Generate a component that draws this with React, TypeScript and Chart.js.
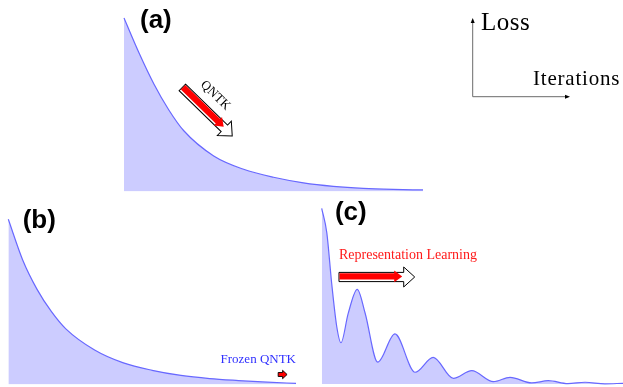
import { useEffect, useRef } from "react";
import { Chart, registerables } from "chart.js";

Chart.register(...registerables);

// Panel (a): plain QNTK regime, smooth decay
const iterationsA = [0, 0.5, 1, 1.5, 2, 3, 4, 5, 6, 7, 8, 9, 10];
const lossA = [1.0, 0.8, 0.62, 0.47, 0.35, 0.205, 0.128, 0.082, 0.05, 0.03, 0.018, 0.012, 0.009];

// Panel (b): frozen QNTK, same kind of decay
const iterationsB = [0, 0.5, 1, 1.5, 2, 3, 4, 5, 6, 7, 8, 9, 10];
const lossB = [1.0, 0.754, 0.576, 0.441, 0.337, 0.209, 0.131, 0.086, 0.055, 0.036, 0.024, 0.014, 0.007];

// Panel (c): representation learning, damped oscillation
const iterationsC = [0, 0.17, 0.33, 0.5, 0.64, 0.88, 1.18, 1.44, 1.86, 2.43, 3.1, 3.7, 4.37, 4.98, 5.7, 6.25, 6.97, 7.52, 8.17, 8.74, 9.4, 10];
const lossC = [1.0, 0.86, 0.575, 0.326, 0.235, 0.402, 0.539, 0.404, 0.124, 0.285, 0.067, 0.152, 0.032, 0.076, 0.013, 0.038, 0.006, 0.019, 0.002, 0.01, 0.001, 0.004];

const panelLabels = ["(a)", "(b)", "(c)"];
const axisLabels = { y: "Loss", x: "Iterations" };
const arrowTexts = { a: "QNTK", b: "Frozen QNTK", c: "Representation Learning" };

const FILL = "#ccccff";
const LINE = "rgb(104,104,255)";

type Ctx = CanvasRenderingContext2D;

function blockArrow(
  ctx: Ctx,
  x0: number,
  y0: number,
  x1: number,
  y1: number,
  o: { sw: number; hw: number; hl: number; fill: string; stroke?: string; lw?: number; off?: number }
) {
  const L = Math.hypot(x1 - x0, y1 - y0);
  const ang = Math.atan2(y1 - y0, x1 - x0);
  const off = o.off || 0;
  ctx.save();
  ctx.translate(x0, y0);
  ctx.rotate(ang);
  ctx.beginPath();
  ctx.moveTo(0, off - o.sw);
  ctx.lineTo(L - o.hl, off - o.sw);
  ctx.lineTo(L - o.hl, off - o.hw);
  ctx.lineTo(L, off);
  ctx.lineTo(L - o.hl, off + o.hw);
  ctx.lineTo(L - o.hl, off + o.sw);
  ctx.lineTo(0, off + o.sw);
  ctx.closePath();
  ctx.fillStyle = o.fill;
  ctx.fill();
  if (o.stroke) {
    ctx.strokeStyle = o.stroke;
    ctx.lineWidth = o.lw || 1;
    ctx.lineJoin = "miter";
    ctx.stroke();
  }
  ctx.restore();
}

// Outlined arrow with a red progress arrow painted inside it
function progressArrow(ctx: Ctx, x0: number, y0: number, x1: number, y1: number) {
  const L = Math.hypot(x1 - x0, y1 - y0);
  const ux = (x1 - x0) / L;
  const uy = (y1 - y0) / L;
  blockArrow(ctx, x0, y0, x1, y1, { sw: 4.6, hw: 10, hl: 11, fill: "#ffffff", stroke: "#000000", lw: 1 });
  const Lr = L - 12.5;
  blockArrow(ctx, x0 + ux * 0.5, y0 + uy * 0.5, x0 + ux * Lr, y0 + uy * Lr, {
    sw: 3.2,
    hw: 5.8,
    hl: 8,
    fill: "#ff0000",
    off: -0.6,
  });
}

function smallArrow(ctx: Ctx, x0: number, y0: number, x1: number, y1: number) {
  blockArrow(ctx, x0, y0, x1, y1, { sw: 2, hw: 4.2, hl: 4.5, fill: "#ff0000", stroke: "#000000", lw: 0.9 });
}

function lineArrow(ctx: Ctx, x0: number, y0: number, x1: number, y1: number) {
  ctx.save();
  ctx.strokeStyle = "#6b6b6b";
  ctx.lineWidth = 1;
  ctx.beginPath();
  ctx.moveTo(x0, y0);
  ctx.lineTo(x1, y1);
  ctx.stroke();
  const ang = Math.atan2(y1 - y0, x1 - x0);
  ctx.translate(x1, y1);
  ctx.rotate(ang);
  ctx.fillStyle = "#000000";
  ctx.beginPath();
  ctx.moveTo(2, 0);
  ctx.lineTo(-3, -2);
  ctx.lineTo(-3, 2);
  ctx.closePath();
  ctx.fill();
  ctx.restore();
}

function label(ctx: Ctx, text: string, x: number, y: number) {
  ctx.save();
  ctx.font = "bold 26px 'Liberation Sans', Arial, sans-serif";
  ctx.fillStyle = "#000000";
  ctx.textAlign = "left";
  ctx.textBaseline = "alphabetic";
  ctx.fillText(text, x, y);
  ctx.restore();
}

function serifText(
  ctx: Ctx,
  text: string,
  x: number,
  y: number,
  size: number,
  color: string,
  align: CanvasTextAlign = "left",
  spacing = 0
) {
  ctx.save();
  ctx.font = `${size}px 'Liberation Serif', 'Times New Roman', serif`;
  (ctx as any).letterSpacing = `${spacing}px`;
  ctx.fillStyle = color;
  ctx.textAlign = align;
  ctx.textBaseline = "alphabetic";
  ctx.fillText(text, x, y);
  ctx.restore();
}

type Annotate = (chart: Chart, X: (v: number) => number, Y: (v: number) => number) => void;

function makeChart(
  canvas: HTMLCanvasElement,
  xs: number[],
  ys: number[],
  padding: { left: number; right: number; top: number; bottom: number },
  annotate: Annotate
) {
  return new Chart(canvas, {
    type: "line",
    data: {
      datasets: [
        {
          data: xs.map((x, i) => ({ x, y: ys[i] })),
          borderColor: LINE,
          borderWidth: 1.2,
          backgroundColor: FILL,
          fill: "origin",
          pointRadius: 0,
          cubicInterpolationMode: "monotone",
          clip: 2,
        },
      ],
    },
    options: {
      responsive: false,
      animation: false,
      events: [],
      layout: { padding },
      scales: {
        x: { type: "linear", display: false, min: 0, max: 10 },
        y: { type: "linear", display: false, min: 0, max: 1 },
      },
      plugins: { legend: { display: false }, tooltip: { enabled: false } },
    },
    plugins: [
      {
        id: "panelNotes",
        afterDatasetsDraw(chart: Chart) {
          const X = (v: number) => chart.scales.x.getPixelForValue(v);
          const Y = (v: number) => chart.scales.y.getPixelForValue(v);
          annotate(chart, X, Y);
        },
      },
    ],
  });
}

export default function App() {
  const refA = useRef<HTMLCanvasElement>(null);
  const refB = useRef<HTMLCanvasElement>(null);
  const refC = useRef<HTMLCanvasElement>(null);

  useEffect(() => {
    const charts: Chart[] = [];

    charts.push(
      makeChart(refA.current!, iterationsA, lossA, { left: 124, right: 200, top: 18, bottom: 8.5 }, (chart, X, Y) => {
        const ctx = chart.ctx;
        label(ctx, panelLabels[0], X(0.535), Y(0.942));
        const x0 = X(1.95), y0 = Y(0.6), x1 = X(3.62), y1 = Y(0.32);
        progressArrow(ctx, x0, y0, x1, y1);
        ctx.save();
        ctx.translate(X(3.07), Y(0.556));
        ctx.rotate(Math.atan2(y1 - y0, x1 - x0));
        serifText(ctx, arrowTexts.a, 0, 4, 13, "#000000", "center");
        ctx.restore();
        // axis key in the top-right corner
        lineArrow(ctx, 472.7, 96.7, 472.7, 20);
        lineArrow(ctx, 472.7, 96.7, 568, 96.7);
        serifText(ctx, axisLabels.y, 481, 30, 25, "#000000", "left", 0.5);
        serifText(ctx, axisLabels.x, 533, 85, 21, "#000000", "left", 0.8);
      })
    );

    charts.push(
      makeChart(refB.current!, iterationsB, lossB, { left: 8.3, right: 14, top: 19.3, bottom: 2.5 }, (chart, X, Y) => {
        const ctx = chart.ctx;
        label(ctx, panelLabels[1], X(0.5), Y(0.947));
        serifText(ctx, arrowTexts.b, X(10), Y(0.13), 13, "#3030ff", "right");
        smallArrow(ctx, X(9.38), Y(0.0605), X(9.69), Y(0.0605));
      })
    );

    charts.push(
      makeChart(refC.current!, iterationsC, lossC, { left: 11.7, right: 0, top: 13.3, bottom: 3 }, (chart, X, Y) => {
        const ctx = chart.ctx;
        label(ctx, panelLabels[2], X(0.44), Y(0.933));
        serifText(ctx, arrowTexts.c, X(0.574), Y(0.709), 14, "#ff1a1a", "left");
        progressArrow(ctx, X(0.574), Y(0.609), X(3.087), Y(0.609));
      })
    );

    return () => charts.forEach((c) => c.destroy());
  }, []);

  const box: React.CSSProperties = {
    position: "fixed",
    left: 0,
    top: 0,
    width: 623,
    height: 387,
    background: "#ffffff",
    overflow: "hidden",
  };

  return (
    <div style={box}>
      <canvas ref={refA} width={623} height={200} style={{ position: "absolute", left: 0, top: 0 }} />
      <canvas ref={refB} width={310} height={187} style={{ position: "absolute", left: 0, top: 200 }} />
      <canvas ref={refC} width={313} height={192} style={{ position: "absolute", left: 310, top: 195 }} />
    </div>
  );
}
